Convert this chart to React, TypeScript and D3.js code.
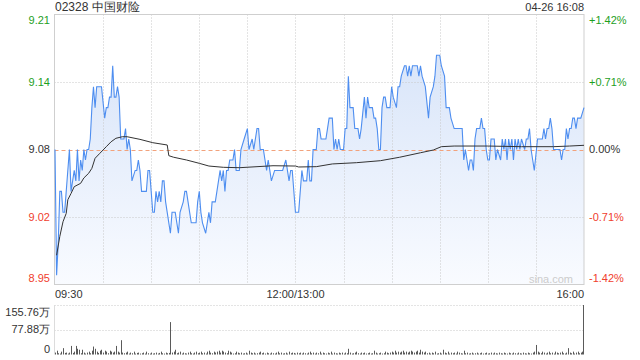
import React from "react";
import * as d3 from "d3";

const title = "02328 中国财险";
const stamp = "04-26 16:08";
const prevClose = 9.08;
const pctRange = 1.42;

const priceTicks = ["9.21", "9.14", "9.08", "9.02", "8.95"];
const pctTicks = ["+1.42%", "+0.71%", "0.00%", "-0.71%", "-1.42%"];
const timeLabels = ["09:30", "12:00/13:00", "16:00"];
const timeLabelMinutes = [0, 150, 330];
const volTicks = ["155.76万", "77.88万", "0"];
const volMax = 155.76;

const priceTimes = [0,1,2,3,4,5,6,7,9,10,12,13,14,15,16,17,18,19,20,21,22,23,24,25,26,29,31,32,33,34,35,36,37,38,39,40,41,43,44,45,46,47,48,50,51,52,53,54,57,58,59,60,61,62,63,64,65,66,67,68,69,71,72,73,75,77,78,80,81,82,83,84,85,88,89,90,91,92,94,95,96,97,98,100,101,102,103,104,105,106,107,108,109,111,112,113,115,116,118,120,121,123,124,126,127,128,130,131,132,133,134,135,137,142,144,145,146,147,148,150,152,154,155,157,158,159,160,161,163,164,165,166,169,170,171,173,174,175,176,177,178,180,181,182,183,184,186,187,189,190,191,193,194,195,196,198,199,200,201,202,203,204,205,206,207,209,210,211,213,214,215,216,218,219,220,221,222,223,226,227,228,229,231,233,234,236,237,238,240,241,243,244,246,247,249,254,255,256,257,258,259,260,261,262,263,265,266,267,268,269,270,271,272,274,275,276,278,279,280,281,282,283,284,285,286,287,288,289,290,291,293,294,295,296,297,298,299,301,304,305,306,307,308,309,310,311,315,316,317,318,319,320,321,322,323,324,325,326,327,328,330];
const prices = [9.08,8.96,8.99,9.04,9.04,9.02,9.02,9.04,9.08,9.04,9.06,9.05,9.08,9.05,9.07,9.06,9.08,9.07,9.08,9.08,9.09,9.12,9.14,9.12,9.14,9.14,9.11,9.12,9.12,9.13,9.13,9.16,9.13,9.13,9.14,9.13,9.09,9.09,9.10,9.08,9.09,9.08,9.05,9.06,9.06,9.07,9.06,9.04,9.04,9.06,9.06,9.04,9.02,9.02,9.04,9.03,9.04,9.03,9.05,9.05,9.03,9.01,9.00,9.02,9.02,9.00,9.02,9.03,9.04,9.04,9.03,9.02,9.01,9.01,9.03,9.04,9.02,9.01,9.00,9.01,9.02,9.01,9.03,9.03,9.04,9.05,9.06,9.05,9.06,9.04,9.06,9.06,9.07,9.07,9.08,9.06,9.06,9.08,9.09,9.10,9.08,9.09,9.08,9.10,9.10,9.08,9.08,9.07,9.06,9.07,9.06,9.05,9.06,9.06,9.07,9.06,9.05,9.06,9.06,9.02,9.02,9.06,9.05,9.05,9.07,9.05,9.05,9.08,9.08,9.10,9.10,9.09,9.09,9.10,9.11,9.11,9.08,9.09,9.08,9.09,9.08,9.08,9.10,9.10,9.15,9.12,9.12,9.10,9.10,9.09,9.10,9.13,9.11,9.13,9.12,9.12,9.11,9.11,9.10,9.08,9.08,9.12,9.13,9.13,9.12,9.12,9.14,9.13,9.12,9.14,9.14,9.15,9.16,9.16,9.15,9.16,9.15,9.16,9.16,9.15,9.16,9.15,9.14,9.11,9.13,9.14,9.15,9.17,9.17,9.16,9.15,9.12,9.12,9.11,9.10,9.10,9.07,9.08,9.07,9.06,9.07,9.07,9.06,9.09,9.10,9.10,9.11,9.10,9.10,9.08,9.07,9.07,9.09,9.09,9.07,9.08,9.07,9.09,9.08,9.09,9.07,9.09,9.08,9.09,9.07,9.09,9.08,9.09,9.08,9.09,9.08,9.09,9.09,9.10,9.08,9.07,9.06,9.09,9.09,9.10,9.09,9.10,9.10,9.11,9.10,9.08,9.08,9.07,9.08,9.08,9.10,9.09,9.10,9.10,9.11,9.11,9.10,9.11,9.11,9.11,9.12];

const avgTimes = [1,3,5,7,8,10,12,16,18,21,23,25,28,32,35,38,42,45,53,61,70,71,74,82,90,96,105,115,136,150,152,163,173,188,203,215,228,236,241,249,270,291,311,321,330];
const avgPrices = [8.979,8.997,9.011,9.019,9.032,9.038,9.0445,9.0477,9.0528,9.0573,9.062,9.0716,9.0764,9.0827,9.0874,9.0907,9.0922,9.0922,9.0897,9.0865,9.0843,9.0741,9.0726,9.070,9.0668,9.0642,9.063,9.0626,9.0645,9.0642,9.0633,9.0636,9.0662,9.0674,9.0693,9.0726,9.0769,9.0795,9.0827,9.0833,9.0833,9.0827,9.0827,9.0833,9.084];

const volumes = [
  6,12,4,3,9,20,5,6,3,6,27,5,9,27,18,15,4,15,6,3,
  6,9,4,12,25,18,9,5,12,15,6,12,9,4,12,9,6,9,27,9,
  6,45,6,4,6,9,3,6,4,9,3,5,6,3,4,6,3,9,4,3,
  6,3,4,6,3,5,9,4,3,6,4,5,102,6,9,15,4,6,9,3,
  6,4,3,6,9,4,3,6,9,4,6,9,4,6,3,9,12,6,4,9,
  6,9,12,6,12,9,6,4,12,9,6,3,4,9,6,4,6,3,4,6,
  3,12,6,4,6,3,4,6,9,4,6,3,6,4,3,6,4,3,6,9,
  4,6,3,4,6,3,9,4,6,5,3,6,4,6,3,6,4,3,6,9,
  4,6,3,6,4,9,3,6,4,3,6,4,9,3,6,4,3,6,4,6,
  3,6,4,18,6,3,4,6,9,4,3,6,4,6,3,4,6,3,4,12,
  6,3,4,6,3,4,9,6,4,6,9,6,12,6,9,6,9,12,6,9,
  6,9,12,9,6,9,12,6,15,9,6,9,4,6,3,6,4,9,3,4,
  6,3,15,6,4,9,3,6,4,6,3,9,6,4,3,12,4,6,3,4,
  6,3,4,6,3,4,6,3,4,6,3,4,6,3,6,4,3,6,4,3,
  6,4,3,6,4,3,6,4,3,6,4,3,6,4,3,6,4,3,6,9,
  30,9,6,4,9,6,3,6,9,4,6,3,9,6,4,6,9,4,3,6,
  20,6,4,9,3,6,9,4,6,9,155.76
];

const FONT = "'Liberation Sans', Arial, sans-serif";
const GREEN = "#1ea01e";
const RED = "#f0402d";
const TXT = "#333";
const GRID = "#c9c9c9";

export default function App() {
  const W = 640, H = 360;
  const left = 54.5, right = 584.5, top = 14.5, bottom = 284.5;
  const vTop = 305, vBottom = 354.5;

  const x = d3.scaleLinear().domain([0, 330]).range([55, 584]);
  const lo = prevClose * (1 - pctRange / 100);
  const hi = prevClose * (1 + pctRange / 100);
  const y = d3.scaleLinear().domain([lo, hi]).range([bottom, top]);
  const yv = d3.scaleLinear().domain([0, volMax]).range([vBottom, vTop]);

  const pts = priceTimes.map((m, i) => ({ m, p: prices[i] }));
  const avg = avgTimes.map((m, i) => ({ m, p: avgPrices[i] }));

  const line = d3.line<{ m: number; p: number }>().x(d => x(d.m)).y(d => y(d.p));
  const area = d3.area<{ m: number; p: number }>().x(d => x(d.m)).y0(bottom).y1(d => y(d.p));

  const gridVals = [hi, prevClose * (1 + pctRange / 200), prevClose, prevClose * (1 - pctRange / 200), lo];
  const labelColors = [GREEN, GREEN, TXT, RED, RED];
  const labelOffsets = [6, 0, 0, 0, -6];
  const vGrid = d3.range(30, 330, 30);

  return (
    <svg width={W} height={H} style={{ position: "absolute", left: 0, top: 0 }} fontFamily={FONT}>
      <defs>
        <linearGradient id="fillg" gradientUnits="userSpaceOnUse" x1="0" y1={top} x2="0" y2={bottom}>
          <stop offset="0" stopColor="#d3e1f8" />
          <stop offset="1" stopColor="#f9fbff" />
        </linearGradient>
      </defs>
      <rect width={W} height={H} fill="#fff" />
      <text x={55} y={11} fontSize={12} fill={TXT}>{title}</text>
      <text x={584} y={11} fontSize={11} fill={TXT} textAnchor="end">{stamp}</text>

      <path d={area(pts) || ""} fill="url(#fillg)" />

      {vGrid.map(m => (
        <line key={"vg" + m} x1={Math.round(x(m)) + 0.5} x2={Math.round(x(m)) + 0.5} y1={top} y2={bottom} stroke={GRID} strokeDasharray="1,2" />
      ))}
      {[gridVals[1], gridVals[3]].map((v, i) => (
        <line key={"hg" + i} x1={left} x2={right} y1={Math.round(y(v)) + 0.5} y2={Math.round(y(v)) + 0.5} stroke={GRID} strokeDasharray="1,2" />
      ))}
      <line x1={left} x2={right} y1={Math.round(y(prevClose)) + 0.5} y2={Math.round(y(prevClose)) + 0.5} stroke="#f2a27c" strokeDasharray="4,3" />

      <rect x={left} y={top} width={right - left - 0.5} height={bottom - top} fill="none" stroke="#cfcfcf" />

      <path d={line(pts) || ""} fill="none" stroke="#4e8ef0" strokeWidth={1.1} />
      <path d={line(avg) || ""} fill="none" stroke="#333" strokeWidth={1} />

      <text x={573} y={283} fontSize={11} fill="#cccccc" textAnchor="end">sina.com</text>

      {priceTicks.map((t, i) => (
        <text key={"pt" + i} x={50} y={y(gridVals[i]) + labelOffsets[i]} dy="0.35em" fontSize={11} fill={labelColors[i]} textAnchor="end">{t}</text>
      ))}
      {pctTicks.map((t, i) => (
        <text key={"pc" + i} x={589} y={y(gridVals[i]) + labelOffsets[i]} dy="0.35em" fontSize={11} fill={labelColors[i]}>{t}</text>
      ))}
      {timeLabels.map((t, i) => (
        <text key={"tl" + i} x={x(timeLabelMinutes[i])} y={294} dy="0.35em" fontSize={11} fill={TXT}
          textAnchor={i === 0 ? "start" : i === timeLabels.length - 1 ? "end" : "middle"}>{t}</text>
      ))}

      <line x1={left} x2={right} y1={vTop + 0.5} y2={vTop + 0.5} stroke={GRID} strokeDasharray="1,2" />
      <line x1={left} x2={right} y1={Math.round(yv(volMax / 2)) + 0.5} y2={Math.round(yv(volMax / 2)) + 0.5} stroke={GRID} strokeDasharray="1,2" />
      <line x1={left} x2={left} y1={vTop} y2={vBottom} stroke="#dcdcdc" />
      {volumes.map((v, i) => (
        <rect key={"vb" + i} x={Math.round(x(i)) - (i === 330 ? 1 : 0)} y={yv(v)} width={1} height={vBottom - yv(v)} fill="#5a5a5a" />
      ))}
      {volTicks.map((t, i) => (
        <text key={"vt" + i} x={50} y={[312.5, 329.5, 349][i]} dy="0.35em" fontSize={11} fill={TXT} textAnchor="end">{t}</text>
      ))}
    </svg>
  );
}
